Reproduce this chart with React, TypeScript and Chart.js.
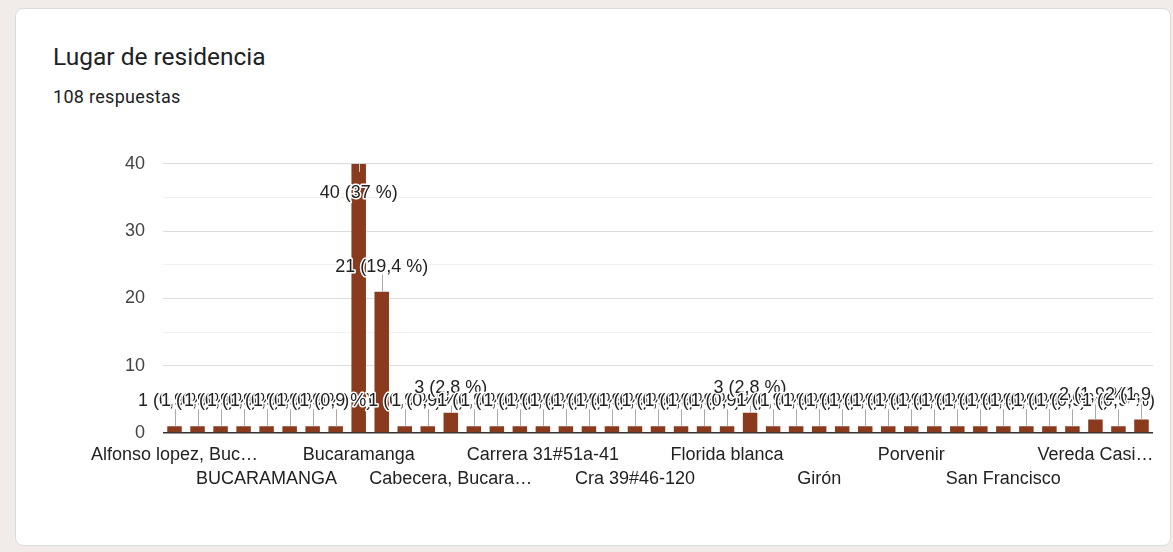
import React, { useEffect, useRef } from "react";
import { Chart, registerables } from "chart.js";

Chart.register(...registerables);

const titleText = "Lugar de residencia";
const subtitleText = "108 respuestas";

const categories = [
  "Alfonso lopez, Buc…",
  "Altos de Provenza",
  "Antonia Santos",
  "Barrio San Alonso",
  "BUCARAMANGA",
  "Bucaramanga - Santander",
  "Bucaramanga Centro",
  "Bucaramanga Santander",
  "Bucaramanga",
  "Bucaramanga, Santander",
  "Cabecera",
  "Cabecera del Llano",
  "Cabecera, Bucara…",
  "Cañaveral",
  "Carrera 27",
  "Carrera 30",
  "Carrera 31#51a-41",
  "Centro",
  "Ciudadela Real de Minas",
  "Cra 33",
  "Cra 39#46-120",
  "Diamante II",
  "El Prado",
  "Floridablanca, Santander",
  "Florida blanca",
  "Floridablanca",
  "Fontana",
  "García Rovira",
  "Girón",
  "La Concordia",
  "Lagos del Cacique",
  "Mutis",
  "Porvenir",
  "Provenza",
  "Real de Minas",
  "San Alonso",
  "San Francisco",
  "San Gil",
  "Sotomayor",
  "Terrazas",
  "Vereda Casi…",
  "Villabel",
  "Piedecuesta",
];

const counts = [
  1, 1, 1, 1, 1, 1, 1, 1, 40, 21,
  1, 1, 3, 1, 1, 1, 1, 1, 1, 1,
  1, 1, 1, 1, 1, 3, 1, 1, 1, 1,
  1, 1, 1, 1, 1, 1, 1, 1, 1, 1,
  2, 1, 2,
];

const yTickLabels = [0, 10, 20, 30, 40];
const yMinorStep = 5;

const BAR_COLOR = "#8a3a1d";
const FONT = "Arial, 'Liberation Sans', sans-serif";

function pctLabel(v: number, total: number): string {
  const p = Math.round((v / total) * 1000) / 10;
  const s = (Number.isInteger(p) ? String(p) : p.toFixed(1)).replace(".", ",");
  return `${v} (${s} %)`;
}

const annotationPlugin = {
  id: "barAnnotations",
  afterDatasetsDraw(chart: any) {
    const { ctx, chartArea } = chart;
    const meta = chart.getDatasetMeta(0);
    const data: number[] = chart.data.datasets[0].data;
    const total = data.reduce((a, b) => a + b, 0);
    ctx.save();
    ctx.beginPath();
    ctx.rect(0, 0, chartArea.right + 2, chart.height);
    ctx.clip();
    const items = meta.data.map((bar: any, i: number) => {
      const top = bar.y;
      const inside = top - 34 < chartArea.top;
      return { x: bar.x, top, inside, text: pctLabel(data[i], total) };
    });
    ctx.lineWidth = 1;
    items.forEach((it: any) => {
      const x = Math.round(it.x) + 0.5;
      ctx.strokeStyle = it.inside ? "#c8c8c8" : "#aaaaaa";
      ctx.beginPath();
      if (it.inside) {
        ctx.moveTo(x, it.top);
        ctx.lineTo(x, it.top + 8);
      } else {
        ctx.moveTo(x, it.top);
        ctx.lineTo(x, it.top - 17);
      }
      ctx.stroke();
    });
    ctx.font = `18px ${FONT}`;
    ctx.textAlign = "center";
    ctx.textBaseline = "middle";
    ctx.lineJoin = "round";
    items.forEach((it: any) => {
      const y = it.inside ? it.top + 29 : it.top - 25;
      ctx.strokeStyle = "#ffffff";
      ctx.lineWidth = 3;
      ctx.strokeText(it.text, it.x, y);
      ctx.fillStyle = "#222222";
      ctx.fillText(it.text, it.x, y);
    });
    ctx.restore();
  },
};

export default function App() {
  const canvasRef = useRef<HTMLCanvasElement | null>(null);

  useEffect(() => {
    if (!canvasRef.current) return;
    const chart = new Chart(canvasRef.current, {
      type: "bar",
      data: {
        labels: categories,
        datasets: [
          {
            data: counts,
            backgroundColor: BAR_COLOR,
            borderWidth: 0,
            barPercentage: 0.63,
            categoryPercentage: 1,
          },
        ],
      },
      options: {
        animation: false,
        responsive: false,
        devicePixelRatio: 1,
        layout: { padding: { left: 0, right: 20, top: 19, bottom: 0 } },
        plugins: {
          legend: { display: false },
          tooltip: { enabled: false },
          title: { display: false },
        },
        scales: {
          x: {
            grid: { display: false, drawTicks: false, tickLength: 0 },
            border: { display: false },
            ticks: {
              autoSkip: false,
              maxRotation: 0,
              minRotation: 0,
              padding: 10,
              color: "#222222",
              font: { family: FONT, size: 18, lineHeight: 1.3333 },
              callback: (_v: any, i: number) =>
                i % 4 !== 0 ? "" : (i / 4) % 2 === 0 ? categories[i] : ["", categories[i]],
            },
            afterFit: (s: any) => {
              s.height = 77;
            },
          },
          y: {
            min: yTickLabels[0],
            max: yTickLabels[yTickLabels.length - 1],
            grid: {
              drawTicks: false,
              tickLength: 0,
              color: (c: any) =>
                c.tick && c.tick.value === 0
                  ? "#333333"
                  : c.tick && yTickLabels.includes(c.tick.value)
                  ? "#dcdcdc"
                  : "#f0f0f0",
              lineWidth: (c: any) => (c.tick && c.tick.value === 0 ? 1.5 : 1),
            },
            border: { display: false },
            ticks: {
              stepSize: yMinorStep,
              padding: 18,
              color: "#444444",
              font: { family: FONT, size: 18 },
              callback: (v: any) => (yTickLabels.includes(Number(v)) ? String(v) : ""),
            },
            afterFit: (s: any) => {
              s.width = 163;
            },
          },
        },
      },
      plugins: [annotationPlugin],
    } as any);
    return () => chart.destroy();
  }, []);

  return (
    <div
      style={{
        position: "fixed",
        left: 0,
        top: 0,
        width: 1173,
        height: 552,
        background: "#f1ece9",
        overflow: "hidden",
      }}
    >
      <div
        style={{
          position: "absolute",
          left: 15,
          top: 8,
          width: 1156,
          height: 538,
          boxSizing: "border-box",
          background: "#ffffff",
          border: "1px solid #dadce0",
          borderRadius: 8,
        }}
      />
      <div
        style={{
          position: "absolute",
          left: 53,
          top: 45,
          fontFamily: "Roboto, sans-serif",
          fontSize: 24.5,
          lineHeight: "24px",
          color: "#202124",
          whiteSpace: "nowrap",
        }}
      >
        {titleText}
      </div>
      <div
        style={{
          position: "absolute",
          left: 53,
          top: 88,
          fontFamily: "Roboto, sans-serif",
          fontSize: 18,
          lineHeight: "18px",
          letterSpacing: "0.3px",
          color: "#202124",
          whiteSpace: "nowrap",
        }}
      >
        {subtitleText}
      </div>
      <canvas
        ref={canvasRef}
        width={1173}
        height={375}
        style={{ position: "absolute", left: 0, top: 135, width: 1173, height: 375 }}
      />
    </div>
  );
}
